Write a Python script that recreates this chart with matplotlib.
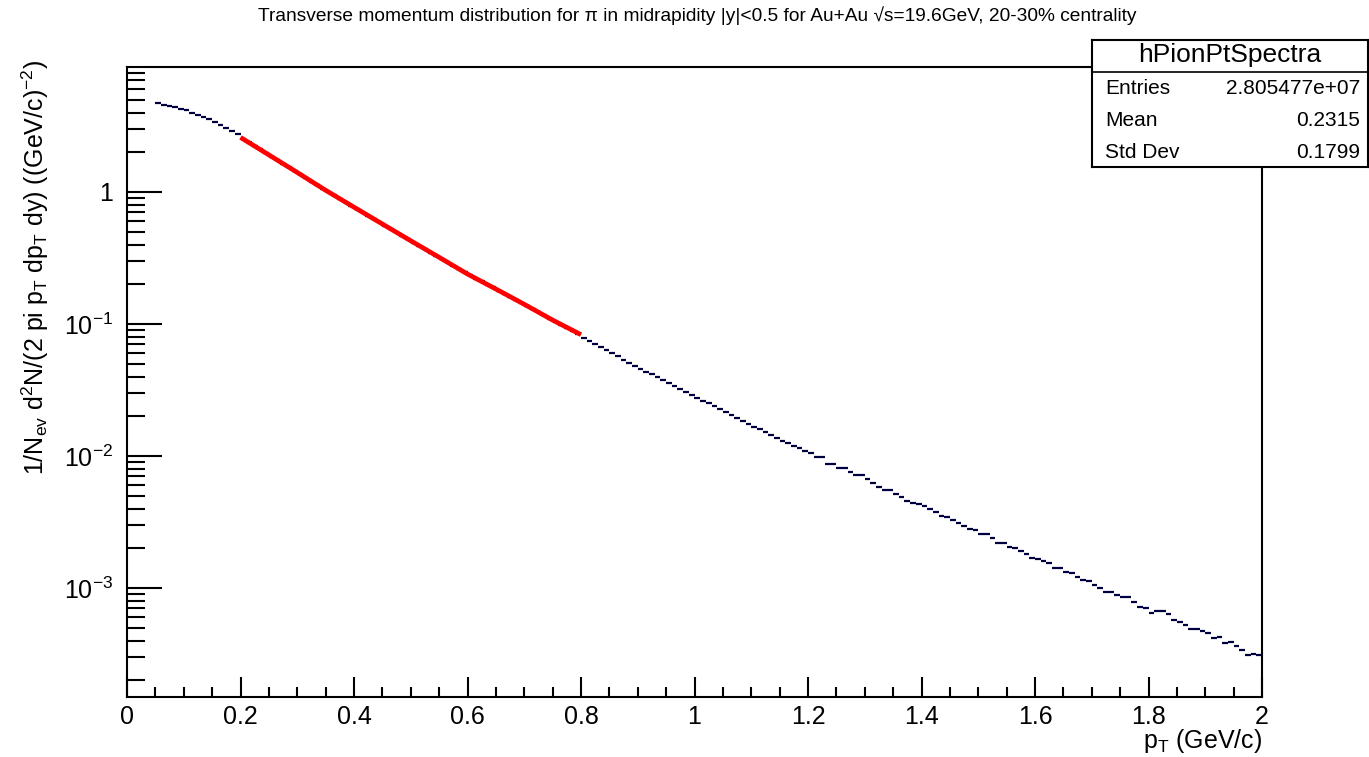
import numpy as np
import matplotlib
matplotlib.use("Agg")
import matplotlib.pyplot as plt
from matplotlib.ticker import FixedLocator, LogLocator, NullFormatter, MultipleLocator, FixedFormatter

plt.rcParams['font.family'] = ['Liberation Sans', 'DejaVu Sans']
plt.rcParams['mathtext.fontset'] = 'custom'
plt.rcParams['mathtext.rm'] = 'Liberation Sans'
plt.rcParams['mathtext.it'] = 'Liberation Sans:italic'
plt.rcParams['mathtext.bf'] = 'Liberation Sans:bold'

# histogram binning (GeV/c)
pt_low, pt_high, n_bins = 0.05, 2.0, 195

# bin contents (bins of 0.01 from 0.05 to 2.0)
spectra = [
    4.70, 4.60, 4.49, 4.38, 4.27, 4.15, 4.00, 3.84, 3.70, 3.55,
    3.38, 3.20, 3.04, 2.88, 2.73, 2.54, 2.38, 2.24, 2.10, 1.97,
    1.85, 1.74, 1.64, 1.54, 1.45, 1.36, 1.28, 1.20, 1.13, 1.06,
    1.00, 0.943, 0.889, 0.838, 0.790, 0.745, 0.702, 0.662, 0.624, 0.589,
    0.555, 0.524, 0.494, 0.466, 0.439, 0.414, 0.391, 0.369, 0.348, 0.329,
    0.310, 0.293, 0.276, 0.261, 0.246, 0.233, 0.221, 0.210, 0.199, 0.189,
    0.179, 0.170, 0.161, 0.153, 0.145, 0.137, 0.130, 0.123, 0.116, 0.110,
    0.104, 0.0985, 0.0932, 0.0882, 0.0835, 0.0790, 0.0748, 0.0708, 0.0670, 0.0634,
    0.0600, 0.0568, 0.0538, 0.0509, 0.0482, 0.0459, 0.0436, 0.0415, 0.0395, 0.0375,
    0.0357, 0.0339, 0.0322, 0.0307, 0.0292, 0.0277, 0.0263, 0.0250, 0.0238, 0.0226,
    0.0215, 0.0204, 0.0194, 0.0184, 0.0175, 0.0167, 0.0159, 0.0151, 0.0144, 0.0137,
    0.0131, 0.0125, 0.0119, 0.0114, 0.0110, 0.0105, 0.00980, 0.00975, 0.00875, 0.00870,
    0.00810, 0.00805, 0.00760, 0.00720, 0.00715, 0.00670, 0.00620, 0.00585, 0.00555, 0.00550,
    0.00515, 0.00486, 0.00458, 0.00440, 0.00436, 0.00420, 0.00395, 0.00375, 0.00348, 0.00346,
    0.00327, 0.00310, 0.00295, 0.00282, 0.00274, 0.00258, 0.00255, 0.00238, 0.00221, 0.00219,
    0.00206, 0.00200, 0.00190, 0.00182, 0.00169, 0.00167, 0.00160, 0.00154, 0.00142, 0.00141,
    0.00132, 0.00130, 0.00122, 0.00114, 0.00113, 0.00105, 0.000995, 0.000940, 0.000936, 0.000885,
    0.000852, 0.000848, 0.000787, 0.000712, 0.000708, 0.000650, 0.000675, 0.000670, 0.000635, 0.000572,
    0.000552, 0.000525, 0.000490, 0.000488, 0.000475, 0.000456, 0.000418, 0.000427, 0.000385, 0.000392,
    0.000364, 0.000339, 0.000310, 0.000316, 0.000308,
]

# fit curve (red)
fit_pt = [0.20, 0.25, 0.30, 0.35, 0.40, 0.45, 0.50, 0.55, 0.60, 0.65, 0.70, 0.75, 0.80]
fit_vals = [2.59, 1.91, 1.406, 1.03, 0.767, 0.572, 0.427, 0.320, 0.239, 0.184, 0.141, 0.107, 0.083]

# stats box
hist_name = "hPionPtSpectra"
stat_names = ["Entries", "Mean", "Std Dev"]
stat_values = ["2.805477e+07", "0.2315", "0.1799"]

W, H = 1369, 757
fig = plt.figure(figsize=(W / 100, H / 100), dpi=100)
ax = fig.add_axes([127 / W, 1 - 697 / H, (1262 - 127) / W, (697 - 67) / H])

edges = np.linspace(pt_low, pt_high, n_bins + 1)
centers = 0.5 * (edges[:-1] + edges[1:])
half_w = 0.5 * (edges[1] - edges[0])

ax.errorbar(centers, spectra, xerr=half_w, fmt='none', ecolor='#000040',
            elinewidth=1.6, capsize=0, zorder=2)
ax.plot(fit_pt, fit_vals, color='red', lw=3.4, solid_capstyle='butt', zorder=3)

ax.set_yscale('log')
ax.set_xlim(0, 2)
ax.set_ylim(1.493e-4, 8.85)

# ROOT-like ticks
ax.xaxis.set_minor_locator(MultipleLocator(0.05))
ax.set_xticks([0, 0.2, 0.4, 0.6, 0.8, 1.0, 1.2, 1.4, 1.6, 1.8, 2.0])
ax.set_xticklabels(['0', '0.2', '0.4', '0.6', '0.8', '1', '1.2', '1.4', '1.6', '1.8', '2'])
ax.yaxis.set_major_locator(FixedLocator([1e-3, 1e-2, 1e-1, 1]))
ax.yaxis.set_major_formatter(FixedFormatter([r'$10^{-3}$', r'$10^{-2}$', r'$10^{-1}$', '1']))
ax.yaxis.set_minor_locator(LogLocator(base=10, subs=np.arange(2, 10), numticks=20))
ax.yaxis.set_minor_formatter(NullFormatter())

ax.tick_params(axis='y', which='major', direction='in', length=25, width=1.5,
               labelsize=18, pad=10, right=False)
ax.tick_params(axis='y', which='minor', direction='in', length=13, width=1.5, right=False)
ax.tick_params(axis='x', which='major', direction='in', length=14.5, width=1.5,
               labelsize=18, pad=6, top=False)
ax.tick_params(axis='x', which='minor', direction='in', length=7.2, width=1.5, top=False)
for s in ax.spines.values():
    s.set_linewidth(1.5)

# axis titles
fig.text(1262 / W, 1 - 741 / H, r'p$_{\mathregular{T}}$ (GeV/c)', ha='right', va='center', fontsize=18)
fig.text(35 / W, 1 - 60 / H,
         r'1/N$_{\mathregular{ev}}$ d$^{\mathregular{2}}$N/(2 pi p$_{\mathregular{T}}$ dp$_{\mathregular{T}}$ dy) ((GeV/c)$^{\mathregular{-2}}$)',
         rotation=90, ha='center', va='top', fontsize=18)

# title
fig.text(697 / W, 1 - 16 / H,
         'Transverse momentum distribution for \u03c0 in midrapidity |y|<0.5 for Au+Au \u221as=19.6GeV, 20-30% centrality',
         ha='center', va='center', fontsize=13.8)

# stats box
sx0, sy0, sx1, sy1 = 1092, 40, 1368, 167
sb = fig.add_axes([sx0 / W, 1 - sy1 / H, (sx1 - sx0) / W, (sy1 - sy0) / H])
sb.set_xlim(sx0, sx1)
sb.set_ylim(sy1, sy0)
sb.set_xticks([])
sb.set_yticks([])
for s in sb.spines.values():
    s.set_linewidth(1.5)
sb.axhline(72, color='black', lw=1.2)
sb.text((sx0 + sx1) / 2, 55, hist_name, ha='center', va='center', fontsize=19)
for i, (name, val) in enumerate(zip(stat_names, stat_values)):
    yy = 88 + 32 * i
    sb.text(1105, yy, name, ha='left', va='center', fontsize=15)
    sb.text(1360, yy, val, ha='right', va='center', fontsize=15)

fig.savefig('out.png', dpi=100)
